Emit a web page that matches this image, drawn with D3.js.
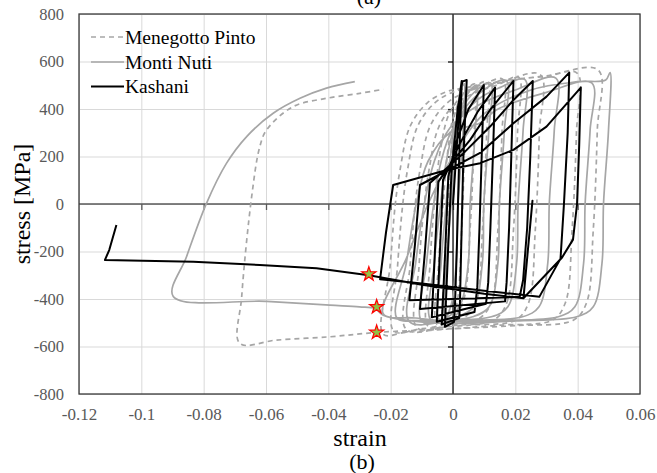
<!DOCTYPE html>
<html>
<head>
<meta charset="utf-8">
<script src="https://cdn.jsdelivr.net/npm/d3@7/dist/d3.min.js"></script>
<style>
  html, body { margin: 0; padding: 0; background: #fff; }
  svg { display: block; }
  svg text { font-family: "Times New Roman", "Liberation Serif", "DejaVu Serif", serif; }
</style>
</head>
<body>
<svg id="chart" width="657" height="473"></svg>
<script>
// Axis ticks
const xTicks = [-0.12, -0.1, -0.08, -0.06, -0.04, -0.02, 0, 0.02, 0.04, 0.06];
const xTickLabels = ["-0.12", "-0.1", "-0.08", "-0.06", "-0.04", "-0.02", "0", "0.02", "0.04", "0.06"];
const yTicks = [-800, -600, -400, -200, 0, 200, 400, 600, 800];
const yTickLabels = ["-800", "-600", "-400", "-200", "0", "200", "400", "600", "800"];

const seriesNames = ["Menegotto Pinto", "Monti Nuti", "Kashani"];

// Menegotto Pinto model: [strain, stress MPa]
const menegottoPinto = [
  [0,0],[0.0024,470],[0.0032,500],[0.0040,506],
  [0.0038,300],[0.0028,-100],[0.0012,-420],[-0.0010,-490],[-0.0030,-505],
  [-0.0028,-300],[-0.0016,0],[-0.0004,250],[0.0010,400],[0.0040,475],[0.0070,505],
  [0.0068,300],[0.0055,-100],[0.0035,-400],[0.0000,-482],[-0.0050,-508],
  [-0.0046,-250],[-0.0032,0],[-0.0016,230],[0.0005,380],[0.0050,470],[0.0110,515],
  [0.0108,300],[0.0095,-100],[0.0073,-410],[0.0030,-485],[-0.0030,-505],[-0.0080,-515],
  [-0.0074,-260],[-0.0060,0],[-0.0040,230],[-0.0012,380],[0.0040,470],[0.0100,505],[0.0160,525],
  [0.0157,300],[0.0144,-110],[0.0122,-418],[0.0080,-485],[0.0000,-505],[-0.0115,-522],
  [-0.0109,-264],[-0.0093,-11],[-0.0077,143],[-0.0045,326],[0.0010,424],[0.0080,473],[0.0150,505],[0.0210,535],
  [0.0207,300],[0.0194,-110],[0.0172,-418],[0.0130,-489],[0.0000,-512],[-0.0150,-528],
  [-0.0138,-264],[-0.0122,-11],[-0.0106,143],[-0.0074,326],[-0.0020,424],[0.0044,473],[0.0150,510],[0.0280,545],
  [0.0277,300],[0.0264,-110],[0.0242,-418],[0.0200,-489],[0.0050,-510],[-0.0100,-525],[-0.0190,-535],
  [-0.0178,-264],[-0.0162,-11],[-0.0146,143],[-0.0114,326],[-0.0060,424],[0.0004,473],[0.0150,515],[0.0300,538],[0.0398,551],
  [0.0396,300],[0.0382,-110],[0.0360,-418],[0.0318,-489],[0.0150,-510],[0.0000,-525],[-0.0150,-540],[-0.0224,-548],
  [-0.0202,-264],[-0.0186,-11],[-0.0170,143],[-0.0138,326],[-0.0084,424],[-0.0020,473],[0.0033,488],[0.0150,515],[0.0300,540],[0.0466,564],
  [0.0463,312],[0.0450,-110],[0.0428,-418],[0.0386,-489],[0.0200,-512],[0.0000,-525],[-0.0245,-541],[-0.0395,-559],[-0.0567,-573],[-0.0684,-587],
  [-0.0678,-391],[-0.0646,31],[-0.0620,241],[-0.0598,312],[-0.0513,410],[-0.0406,445],[-0.0299,466],[-0.0224,483]
];

// Monti Nuti model
const montiNuti = [
  [0,0],[0.0024,480],[0.0035,505],
  [0.0032,300],[0.0016,0],[0.0010,-250],[-0.0005,-420],[-0.0025,-480],
  [-0.0021,-250],[-0.0006,0],[0.0004,200],[0.0020,380],[0.0050,470],[0.0075,500],
  [0.0071,300],[0.0055,0],[0.0049,-250],[0.0025,-420],[-0.0010,-470],[-0.0045,-485],
  [-0.0038,-250],[-0.0022,0],[-0.0008,200],[0.0015,360],[0.0060,460],[0.0120,510],
  [0.0115,312],[0.0099,3],[0.0094,-250],[0.0066,-433],[0.0013,-475],[-0.0070,-490],
  [-0.0060,-250],[-0.0040,0],[-0.0020,190],[0.0010,340],[0.0070,450],[0.0170,520],
  [0.0165,312],[0.0149,3],[0.0144,-250],[0.0116,-433],[0.0063,-475],[-0.0020,-490],[-0.0100,-495],
  [-0.0085,-250],[-0.0062,0],[-0.0038,180],[0.0000,320],[0.0080,440],[0.0150,490],[0.0230,525],
  [0.0225,312],[0.0209,3],[0.0204,-250],[0.0176,-433],[0.0123,-475],[0.0000,-490],[-0.0140,-495],
  [-0.0120,-250],[-0.0092,0],[-0.0060,180],[-0.0010,320],[0.0087,420],[0.0200,480],[0.0330,530],
  [0.0325,312],[0.0309,3],[0.0304,-250],[0.0276,-433],[0.0223,-475],[0.0050,-490],[-0.0100,-490],[-0.0180,-480],
  [-0.0150,-250],[-0.0118,0],[-0.0080,180],[-0.0010,300],[0.0087,341],[0.0139,396],[0.0300,470],[0.0445,510],
  [0.0440,312],[0.0424,3],[0.0419,-250],[0.0391,-433],[0.0338,-475],[0.0150,-490],[0.0000,-495],[-0.0120,-480],[-0.0224,-462],
  [-0.0150,-230],[-0.0074,17],[0.0000,200],[0.0100,380],[0.0250,480],[0.0400,515],[0.0490,522],[0.0504,553],
  [0.0499,312],[0.0483,3],[0.0478,-250],[0.0450,-433],[0.0397,-475],[0.0200,-492],[-0.0026,-503],[-0.0224,-468],[-0.0250,-440],[-0.0300,-433],[-0.0395,-426],[-0.0600,-410],[-0.0898,-388],
  [-0.0855,-222],[-0.0791,3],[-0.0727,171],[-0.0662,284],[-0.0577,382],[-0.0491,445],[-0.0406,488],[-0.0315,515]
];

// Kashani model (with buckling)
const kashani = [
  [0,0],
  [0.0024,480],[0.0028,518],
  [0.0020,200],[0.0012,-200],[0.0006,-440],[0.0003,-497],[-0.0026,-517],
  [-0.0016,-200],[-0.0005,130],[0.0015,400],[0.0030,515],[0.0044,522],
  [0.0033,185],[0.0026,-200],[0.0022,-430],[0.0020,-480],[-0.0036,-507],
  [-0.0025,-200],[-0.0015,115],[0.0010,260],[0.0050,400],[0.0099,501],
  [0.0092,200],[0.0085,-100],[0.0078,-350],[0.0069,-455],[-0.0052,-496],
  [-0.0042,-200],[-0.0032,101],[0.0020,250],[0.0080,390],[0.0135,490],
  [0.0128,200],[0.0120,-100],[0.0113,-330],[0.0106,-420],[-0.0068,-477],
  [-0.0058,-200],[-0.0047,94],[0.0005,190],[0.0055,270],[0.0119,396],[0.0194,518],
  [0.0187,200],[0.0180,-100],[0.0172,-330],[0.0167,-410],[-0.0106,-442],
  [-0.0090,-200],[-0.0074,88],[0.0033,213],[0.0119,326],[0.0194,438],[0.0256,518],
  [0.0248,200],[0.0238,-100],[0.0225,-320],[0.0214,-391],[-0.0140,-405],
  [-0.0122,-170],[-0.0106,80],[0.0087,215],[0.0194,340],[0.0300,452],[0.0373,553],
  [0.0368,300],[0.0356,0],[0.0345,-230],[0.0277,-391],[0.0100,-365],[-0.0100,-335],[-0.0234,-317],
  [-0.0215,-120],[-0.0192,80],[-0.0020,143],[0.0087,172],[0.0194,228],[0.0300,326],[0.0410,490],
  [0.0405,250],[0.0398,0],[0.0385,-150],[0.0350,-225],[0.0226,-397],
  [0.0255,14],[0.0226,-397],
  [0.0100,-378],[-0.0100,-340],[-0.0270,-300],[-0.0438,-271],[-0.0620,-257],[-0.0833,-243],[-0.1117,-236],[-0.1103,-194],[-0.1080,-88]
];

// Marked points on the final compression branch of each model
const markers = [
  [-0.0270, -295],
  [-0.0245, -433],
  [-0.0245, -541]
];

const plot = { left: 79, top: 14, right: 640, bottom: 394 };
const serif = '"Times New Roman", "Liberation Serif", "DejaVu Serif", serif';

const svg = d3.select("#chart");

const x = d3.scaleLinear().domain([-0.12, 0.06]).range([plot.left, plot.right]);
const y = d3.scaleLinear().domain([-800, 800]).range([plot.bottom, plot.top]);

// Gridlines
svg.append("g")
  .attr("transform", `translate(0,${plot.bottom})`)
  .call(d3.axisBottom(x).tickValues(xTicks).tickSize(-(plot.bottom - plot.top)).tickFormat(""))
  .call(g => g.select(".domain").remove())
  .call(g => g.selectAll("line").attr("stroke", "#d9d9d9").attr("stroke-width", 1));
svg.append("g")
  .attr("transform", `translate(${plot.left},0)`)
  .call(d3.axisLeft(y).tickValues(yTicks).tickSize(-(plot.right - plot.left)).tickFormat(""))
  .call(g => g.select(".domain").remove())
  .call(g => g.selectAll("line").attr("stroke", "#d9d9d9").attr("stroke-width", 1));

// Tick labels
svg.append("g")
  .attr("transform", `translate(0,${plot.bottom})`)
  .call(d3.axisBottom(x).tickValues(xTicks).tickSize(0).tickPadding(14)
    .tickFormat((d, i) => xTickLabels[i]))
  .call(g => g.select(".domain").remove())
  .call(g => g.selectAll("text")
    .attr("fill", "#595959")
    .attr("font-family", serif)
    .style("font-family", serif)
    .style("font-size", "17px"));
svg.append("g")
  .attr("transform", `translate(${plot.left},0)`)
  .call(d3.axisLeft(y).tickValues(yTicks).tickSize(0).tickPadding(15)
    .tickFormat((d, i) => yTickLabels[i]))
  .call(g => g.select(".domain").remove())
  .call(g => g.selectAll("text")
    .attr("fill", "#595959")
    .attr("font-family", serif)
    .style("font-family", serif)
    .style("font-size", "16.5px"));

// Zero axes with small tick marks
svg.append("g")
  .attr("transform", `translate(0,${y(0)})`)
  .call(d3.axisBottom(x).tickValues(xTicks.filter(v => v > -0.12 && v < 0.06)).tickSize(6).tickFormat(""))
  .call(g => g.select(".domain").attr("d", `M${plot.left},0H${plot.right}`).attr("stroke", "#595959").attr("stroke-width", 1.3))
  .call(g => g.selectAll("line").attr("stroke", "#595959").attr("stroke-width", 1.3));
svg.append("g")
  .attr("transform", `translate(${x(0)},0)`)
  .call(d3.axisLeft(y).tickValues(yTicks.filter(v => v > -800 && v < 800)).tickSize(5).tickFormat(""))
  .call(g => g.select(".domain").attr("d", `M0,${plot.top}V${plot.bottom}`).attr("stroke", "#000").attr("stroke-width", 1.2))
  .call(g => g.selectAll("line").attr("stroke", "#000").attr("stroke-width", 1.2));

// Plot frame
svg.append("rect")
  .attr("x", plot.left).attr("y", plot.top)
  .attr("width", plot.right - plot.left).attr("height", plot.bottom - plot.top)
  .attr("fill", "none").attr("stroke", "#3a3a3a").attr("stroke-width", 1.3);

// Curves
const smooth = d3.line().x(d => x(d[0])).y(d => y(d[1])).curve(d3.curveCatmullRom.alpha(0.5));
const straight = d3.line().x(d => x(d[0])).y(d => y(d[1]));

svg.append("clipPath").attr("id", "plotClip")
  .append("rect").attr("x", plot.left).attr("y", plot.top)
  .attr("width", plot.right - plot.left).attr("height", plot.bottom - plot.top);

const curves = svg.append("g").attr("clip-path", "url(#plotClip)");

curves.append("path").datum(montiNuti)
  .attr("d", smooth).attr("fill", "none")
  .attr("stroke", "#a6a6a6").attr("stroke-width", 1.7).attr("stroke-linejoin", "round");

curves.append("path").datum(menegottoPinto)
  .attr("d", smooth).attr("fill", "none")
  .attr("stroke", "#a6a6a6").attr("stroke-width", 1.7)
  .attr("stroke-dasharray", "5,4");

curves.append("path").datum(kashani)
  .attr("d", straight).attr("fill", "none")
  .attr("stroke", "#000").attr("stroke-width", 2).attr("stroke-linejoin", "round");

// Star markers
svg.append("g").selectAll("path").data(markers).join("path")
  .attr("transform", d => `translate(${x(d[0])},${y(d[1])})`)
  .attr("d", d3.symbol().type(d3.symbolStar).size(62))
  .attr("fill", "#92c244").attr("stroke", "#ff0000").attr("stroke-width", 1.2);

// Legend
const legendRows = [
  { name: seriesNames[0], color: "#a6a6a6", dash: "5,4", width: 1.7, y: 37 },
  { name: seriesNames[1], color: "#a6a6a6", dash: null, width: 1.7, y: 62 },
  { name: seriesNames[2], color: "#000", dash: null, width: 2, y: 86.5 }
];
const legend = svg.append("g");
legendRows.forEach(r => {
  legend.append("line")
    .attr("x1", 91).attr("x2", 124).attr("y1", r.y).attr("y2", r.y)
    .attr("stroke", r.color).attr("stroke-width", r.width)
    .attr("stroke-dasharray", r.dash);
  legend.append("text")
    .attr("x", 125).attr("y", r.y + 6.5)
    .attr("fill", "#000")
    .attr("font-family", serif)
    .style("font-size", "19.5px")
    .text(r.name);
});

// Axis titles and panel labels
const titles = svg.append("g").attr("font-family", serif).attr("fill", "#000");
titles.append("text")
  .attr("x", 360).attr("y", 446).attr("text-anchor", "middle")
  .style("font-size", "24px").text("strain");
titles.append("text")
  .attr("transform", `translate(30,${(plot.top + plot.bottom) / 2}) rotate(-90)`)
  .attr("text-anchor", "middle")
  .style("font-size", "24px").text("stress [MPa]");
titles.append("text")
  .attr("x", 362).attr("y", 469).attr("text-anchor", "middle")
  .style("font-size", "22px").text("(b)");
titles.append("text")
  .attr("x", 369).attr("y", 4).attr("text-anchor", "middle")
  .style("font-size", "22px").text("(a)");
</script>
</body>
</html>
